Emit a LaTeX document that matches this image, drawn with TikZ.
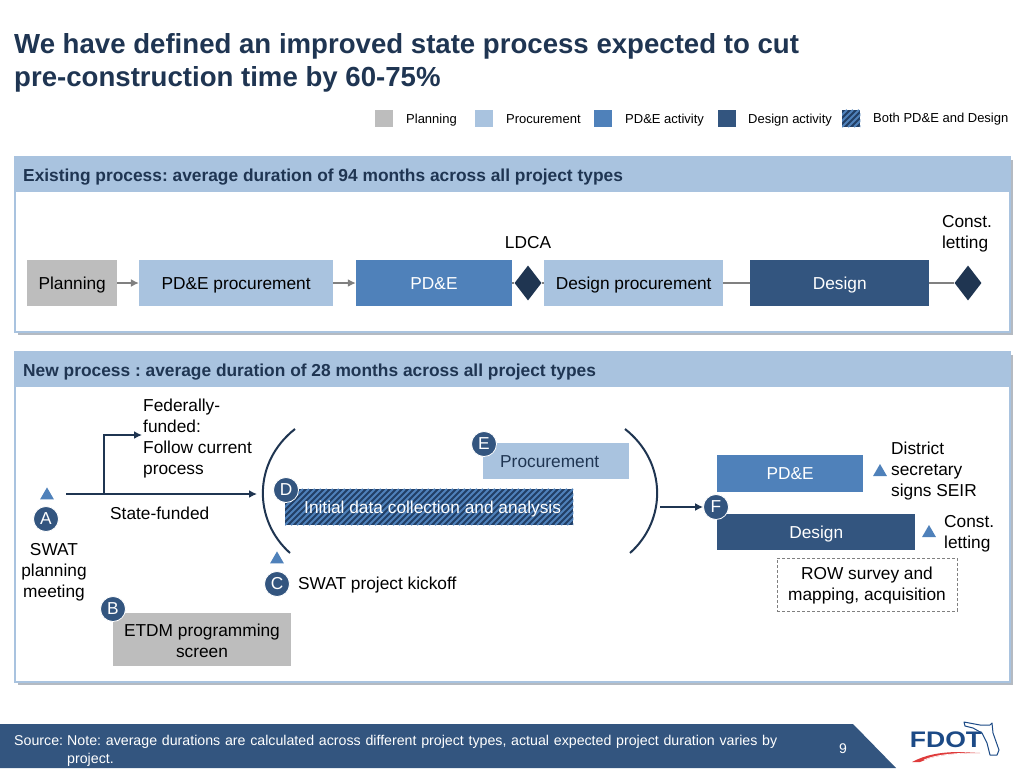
\documentclass[tikz,border=0pt]{standalone}
\usepackage{fontspec}
\setmainfont{Liberation Sans}
\usepackage{tikz}
\usetikzlibrary{positioning,shapes.geometric,arrows.meta}

\definecolor{navy}{HTML}{1F3551}
\definecolor{titleblue}{HTML}{1F3552}
\definecolor{planfill}{HTML}{BDBDBD}
\definecolor{procfill}{HTML}{A9C3DF}
\definecolor{pdefill}{HTML}{4F81BA}
\definecolor{designfill}{HTML}{33557F}
\definecolor{hatchdark}{HTML}{223F66}
\definecolor{shadowgrey}{HTML}{B4BAC2}
\definecolor{linkgrey}{HTML}{808080}
\definecolor{logoblue}{HTML}{1C4A86}
\definecolor{logored}{HTML}{DF3B3B}

\tikzset{
  body/.style={font=\fontsize{17.3}{21}\selectfont,text=black,align=center,inner sep=0pt},
  legendtext/.style={font=\fontsize{13}{15}\selectfont,text=black,inner sep=0pt,anchor=base west},
  swatch/.style={minimum width=18pt,minimum height=17pt,inner sep=0pt,anchor=west},
  actbox/.style={body,minimum height=46pt,inner sep=0pt,anchor=west},
  lowtext/.style={text height=17pt,text depth=4pt},
  planbox/.style={fill=planfill},
  procbox/.style={fill=procfill},
  pdebox/.style={fill=pdefill,text=white},
  designbox/.style={fill=designfill,text=white},
  stripe/.style={pdefill,line width=1.8pt},
  letter/.style={circle,fill=designfill,draw=white,line width=0.8pt,minimum size=25pt,inner sep=0pt,
    text=white,font=\fontsize{17.3}{21}\selectfont},
  milestone/.style={regular polygon,regular polygon sides=3,fill=pdefill,inner sep=0pt,minimum size=16pt},
  gate/.style={diamond,fill=navy,inner sep=0pt,minimum width=27pt,minimum height=35pt},
  panelhead/.style={fill=procfill,minimum width=995pt,minimum height=35pt,inner sep=0pt,anchor=north west},
  headtext/.style={font=\fontsize{17.35}{21}\selectfont\bfseries,text=titleblue,inner sep=0pt,anchor=west},
}

\begin{document}
\frenchspacing
\begin{tikzpicture}[x=1pt,y=-1pt,>={Latex[length=8pt,width=8pt]}]
   \useasboundingbox (0,0) rectangle (1024,768);
   \fill[white] (0,0) rectangle (1024,768);

   % title
   \node[font=\fontsize{27.6}{33}\selectfont\bfseries,text=titleblue,align=left,anchor=north west,inner sep=0pt]
     (title) at (14,33) {We have defined an improved state process expected to cut\\pre-construction time by 60-75\%};

   % legend
   \node[swatch,fill=planfill] (leg_plan) at (375,118.5) {};
   \node[legendtext] (leg_plan_t) at (406,123) {Planning};
   \node[swatch,fill=procfill] (leg_proc) at (475,118.5) {};
   \node[legendtext] (leg_proc_t) at (506,123) {Procurement};
   \node[swatch,fill=pdefill] (leg_pde) at (594,118.5) {};
   \node[legendtext] (leg_pde_t) at (625,123) {PD\&E activity};
   \node[swatch,fill=designfill] (leg_des) at (718,118.5) {};
   \node[legendtext] (leg_des_t) at (748,123) {Design activity};
   \node[swatch,fill=hatchdark] (leg_both) at (842,118.5) {};
   \begin{scope}
     \clip (leg_both.south west) rectangle (leg_both.north east);
     \foreach \x in {0,6,...,36}
       \draw[stripe] (824+\x,127) -- (841+\x,110);
   \end{scope}
   \node[legendtext] (leg_both_t) at (873,122) {Both PD\&E and Design};

   % panels
   \fill[shadowgrey] (18,160) rectangle (1013,335);
   \draw[procfill,line width=1.5pt,fill=white] (15,157) rectangle (1010,332);
   \node[panelhead] (head_old) at (15,157) {};
   \node[headtext] (head_old_t) at (23,177) {Existing process: average duration of 94 months across all project types};

   \fill[shadowgrey] (18,355) rectangle (1013,685);
   \draw[procfill,line width=1.5pt,fill=white] (15,352) rectangle (1010,682);
   \node[panelhead] (head_new) at (15,352) {};
   \node[headtext] (head_new_t) at (23,372) {New process : average duration of 28 months across all project types};

   % existing process
   \node[actbox,lowtext,planbox,minimum width=90pt] (old_plan) at (27,283) {Planning};
   \node[actbox,lowtext,procbox,minimum width=194pt] (old_proc) [right=21.5pt of old_plan] {PD\&E procurement};
   \node[actbox,lowtext,pdebox,minimum width=156pt] (old_pde) [right=22.5pt of old_proc] {PD\&E};
   \node[gate] (ldca) at (528,283) {};
   \node[actbox,lowtext,procbox,minimum width=179pt] (old_desproc) at (544,283) {Design procurement};
   \node[actbox,lowtext,designbox,minimum width=179pt] (old_des) at (750,283) {Design};
   \node[gate] (letting) at (968,283) {};
   \node[body] (ldca_t) at (528,243) {LDCA};
   \node[body,align=left] (letting_t) at (967,234) {Const.\\letting};

   \path[->,linkgrey,line width=2pt]
    (old_plan) edge (old_proc)
    (old_proc) edge (old_pde);
   \path[linkgrey,line width=2pt]
    (old_pde) edge (ldca)
    (ldca) edge (old_desproc)
    (old_desproc) edge (old_des)
    (old_des) edge (letting);

   % new process, left part
   \node[letter] (a) at (46,519) {A};
   \node[milestone,xshift=1pt] (a_mark) [above=6.5pt of a] {};
   \node[body] (a_t) at (54,572) {SWAT\\planning\\meeting};
   \coordinate (start) at (66,494);
   \coordinate (split) at (104,494);
   \coordinate (bracket_in) at (257,494);
   \node[body,align=left,anchor=north west] (fed) at (143,399) {Federally-\\funded:\\Follow current\\process};
   \coordinate (fed_in) at (142,435);
   \node[body,anchor=west] (state) at (110,513) {State-funded};
   \draw[->,navy,line width=2.5pt] (start) -- (bracket_in);
   \draw[->,navy,line width=2.5pt] (split) -- (split |- fed_in) -- (fed_in);

   \node[actbox,planbox,minimum width=178pt,minimum height=53pt] (etdm) at (113,639.5) {};
   \node[body] (etdm_t) at (202,641) {ETDM programming\\screen};
   \node[letter] (b) at (113,609) {B};

   % brackets
   \coordinate (lb_top) at (295,429);
   \coordinate (lb_bot) at (290,553);
   \coordinate (rb_top) at (625,429);
   \coordinate (rb_bot) at (630,553);
   \draw[navy,line width=2pt] (lb_top) .. controls (253,462) and (253,520) .. (lb_bot);
   \draw[navy,line width=2pt] (rb_top) .. controls (667,462) and (667,520) .. (rb_bot);

   \node[actbox,procbox,minimum width=146pt,minimum height=36pt] (proc) at (483,461) {};
   \node[body,text=titleblue,anchor=west] (proc_t) at (500,462) {Procurement};
   \node[letter] (e) at (484,444) {E};
   \node[actbox,fill=hatchdark,minimum width=288pt,minimum height=36pt] (both) at (285,507) {};
   \begin{scope}
     \clip (both.south west) rectangle (both.north east);
     \foreach \x in {0,6,...,330}
       \draw[stripe] (249+\x,525) -- (285+\x,489);
   \end{scope}
   \node[body,text=white,anchor=west] (both_t) at (304,509) {Initial data collection and analysis};
   \node[letter] (d) at (286,490) {D};

   \node[letter] (c) at (277,584) {C};
   \node[milestone] (c_mark) [above=7.5pt of c] {};
   \node[body,anchor=west] (c_t) [right=8pt of c,yshift=-1pt] {SWAT project kickoff};

   % new process, right part
   \node[actbox,pdebox,minimum width=146pt,minimum height=37pt] (new_pde) at (717,473.5) {PD\&E};
   \node[actbox,lowtext,designbox,minimum width=198pt,minimum height=36pt] (new_des) at (717,532) {Design};
   \node[letter] (f) at (716,507) {F};
   \coordinate (bracket_out) at (660,507);
   \draw[->,navy,line width=2pt] (bracket_out) -- (f);
   \node[milestone] (seir_mark) at (880,472) {};
   \node[body,align=left,anchor=west] (seir_t) at (891,471) {District\\secretary\\signs SEIR};
   \node[milestone] (let_mark) at (929,533) {};
   \node[body,align=left,anchor=west] (let_t) at (944,534) {Const.\\letting};
   \node[draw=linkgrey,dash pattern=on 3pt off 2pt,minimum width=180pt,minimum height=53pt,inner sep=0pt] (row) at (867,584.5) {};
   \node[body] (row_t) at (867,586) {ROW survey and\\mapping, acquisition};

   % footer
   \fill[designfill] (0,724) -- (853,724) -- (896,768) -- (0,768) -- cycle;
   \node[font=\fontsize{14.2}{18}\selectfont,text=white,anchor=north west,inner sep=0pt] (src_label) at (14,735) {Source:};
   \node[font=\fontsize{14.2}{18}\selectfont,text=white,anchor=north west,inner sep=0pt,text width=720pt,align=left] (src_note) at (67,735)
     {Note: average durations are calculated across different project types, actual expected project duration varies by project.};
   \node[font=\fontsize{14}{16}\selectfont,text=white,inner sep=0pt] (page) at (843,749) {9};

   % logo
   \fill[logored] (912,762) .. controls (925,755) and (940,752) .. (960,752) -- (980,753) .. controls (962,753) and (945,754) .. (930,758) -- (920,762) -- cycle;
   \draw[white,line width=0.7pt] (924,760) .. controls (935,755) and (950,754) .. (966,753);
   \draw[logoblue,line width=1pt,line join=round] (964,722) -- (980,725) -- (990,725) -- (992,723) -- (993,733) -- (999,750) -- (997,755) -- (990,755) -- (987,743) -- (982,733) -- (973,728) -- (965,726) -- cycle;
   \node[font=\fontsize{22.5}{24}\selectfont\bfseries,text=logoblue,inner sep=0pt] (logo) at (946,740) {\scalebox{1.18}[1]{FDOT}};
\end{tikzpicture}
\end{document}
